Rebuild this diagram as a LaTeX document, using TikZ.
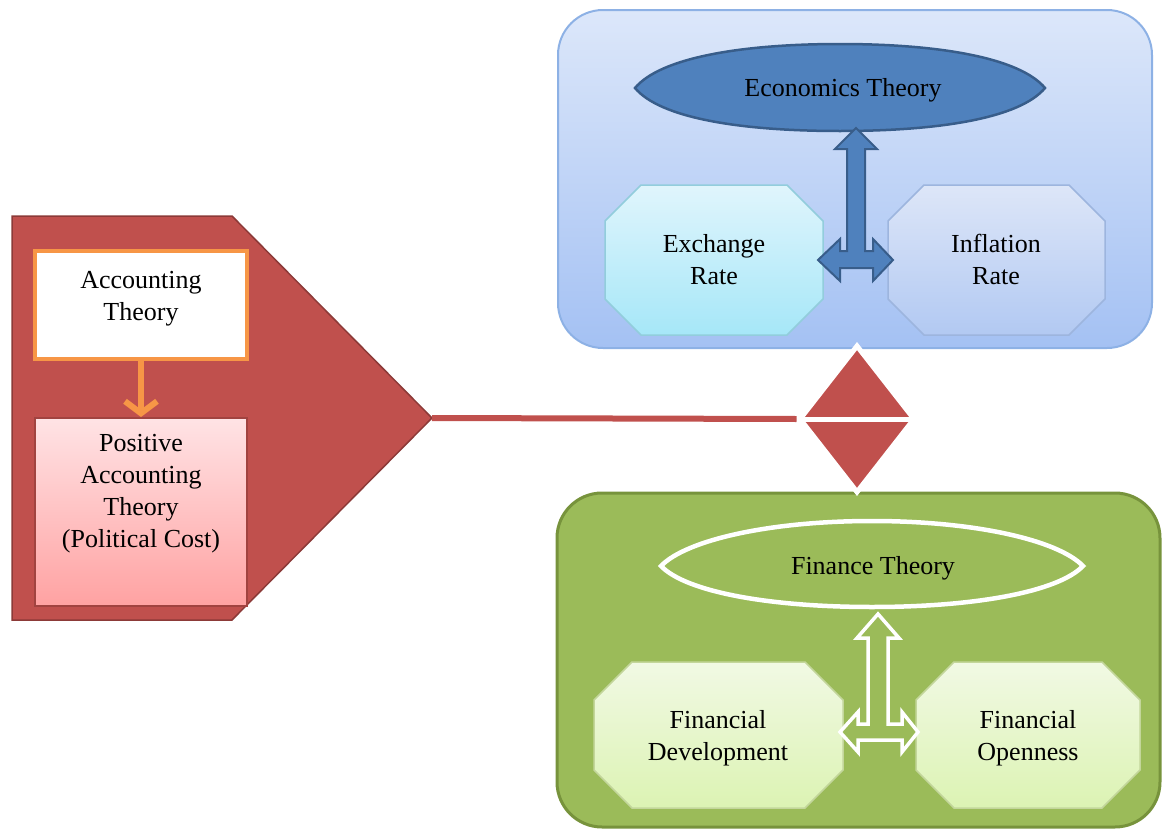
\documentclass[tikz,border=0pt]{standalone}
\usepackage{fontspec}
\setmainfont{Liberation Serif}
\usetikzlibrary{shapes.geometric,arrows.meta}
\definecolor{redF}{HTML}{C0504D}
\definecolor{redD}{HTML}{8C3A38}
\definecolor{orangeA}{HTML}{F79646}
\definecolor{pinkT}{HTML}{FFE3E5}
\definecolor{pinkB}{HTML}{FFA2A2}
\definecolor{pinkD}{HTML}{E9BDBD}
\definecolor{blueT}{HTML}{DCE7FA}
\definecolor{blueB}{HTML}{A4C1F3}
\definecolor{blueBd}{HTML}{8DB1E5}
\definecolor{econF}{HTML}{4F81BD}
\definecolor{econD}{HTML}{385D8A}
\definecolor{exchT}{HTML}{E0F5FC}
\definecolor{exchB}{HTML}{A6E7F8}
\definecolor{exchD}{HTML}{92CDDC}
\definecolor{inflT}{HTML}{DDE6F8}
\definecolor{inflB}{HTML}{B2C9F2}
\definecolor{inflD}{HTML}{9DB5DE}
\definecolor{greenF}{HTML}{9BBB59}
\definecolor{greenD}{HTML}{77933C}
\definecolor{finT}{HTML}{F1F9E4}
\definecolor{finB}{HTML}{DCF3B3}
\definecolor{finD}{HTML}{C3D69B}
\begin{document}
\begin{tikzpicture}[x=1pt,y=-1pt,
  txt/.style={font=\fontsize{26}{32}\selectfont, align=center, inner sep=0pt},
  exchshape/.style={draw=exchD, line width=1.5pt, top color=exchT, bottom color=exchB},
  inflshape/.style={draw=inflD, line width=1.5pt, top color=inflT, bottom color=inflB},
  finshape/.style={draw=finD, line width=1.5pt, top color=finT, bottom color=finB},
  bluearrow/.style={fill=econF, draw=econD, line width=2pt, line join=miter},
  whitearrow/.style={fill=greenF, draw=white, line width=3.5pt, line join=miter}]
\useasboundingbox (0,0) rectangle (1163,830);

% red pentagon
\draw[fill=redF, draw=redD, line width=1.5pt] (12,216) -- (232,216) -- (432,418) coordinate (ptip) -- (232,620) -- (12,620) -- cycle;

% accounting boxes
\node[draw=orangeA, line width=4pt, fill=white, minimum width=212pt, minimum height=108pt, inner sep=0pt] (accbox) at (141,305) {};
\node[txt] (acc) at (141,299) {Accounting\\Theory};
\node[draw=redD!60!redF, line width=2pt, top color=pinkT, bottom color=pinkB, minimum width=212pt, minimum height=188pt, inner sep=0pt] (posbox) at (141,512) {};
\node[txt] (pos) at (141,494) {Positive\\Accounting\\Theory\\(Political Cost)};
\draw[orangeA, line width=6pt, -{Straight Barb[length=12pt,width=32pt]}] (accbox.south) -- (posbox.north);

% blue group
\draw[rounded corners=45pt, draw=blueBd, line width=2pt, top color=blueT, bottom color=blueB] (558,10) rectangle (1152,348);
\draw[fill=econF, draw=econD, line width=2.5pt] (635,88) .. controls (660,58) and (740,44) .. (840,44) .. controls (940,44) and (1020,58) .. (1045,88) .. controls (1020,118) and (940,131) .. (840,131) .. controls (740,131) and (660,118) .. (635,88) -- cycle;
\node[txt] (econ) at (843,90) {Economics Theory};
\draw[exchshape] (641,185) -- (787,185) -- (823,221) -- (823,299) -- (787,335) -- (641,335) -- (605,299) -- (605,221) -- cycle;
\node[txt] (exch) at (714,260) {Exchange\\Rate};
\draw[inflshape] (924,185) -- (1069,185) -- (1105,221) -- (1105,299) -- (1069,335) -- (924,335) -- (888,299) -- (888,221) -- cycle;
\node[txt] (infl) at (996,259) {Inflation\\Rate};
\draw[bluearrow] (856,128) -- (877,149) -- (865,149) -- (865,251) -- (873,251) -- (873,239) -- (893,260) -- (873,281) -- (873,268) -- (840,268) -- (840,281) -- (818,260) -- (840,239) -- (840,251) -- (847,251) -- (847,149) -- (835,149) -- cycle;

% green group
\draw[rounded corners=45pt, draw=greenD, line width=3pt, fill=greenF] (557,493) rectangle (1160,827);
\draw[fill=greenF, draw=white, line width=4.5pt] (661,566) .. controls (686,540) and (770,521) .. (872,521) .. controls (974,521) and (1058,540) .. (1083,566) .. controls (1058,592) and (974,607) .. (872,607) .. controls (770,607) and (686,592) .. (661,566) -- cycle;
\node[txt] (fin) at (873,568) {Finance Theory};
\draw[finshape] (632,662) -- (805,662) -- (843,700) -- (843,770) -- (805,808) -- (632,808) -- (594,770) -- (594,700) -- cycle;
\node[txt] (fdev) at (718,738) {Financial\\Development};
\draw[finshape] (954,662) -- (1102,662) -- (1140,700) -- (1140,770) -- (1102,808) -- (954,808) -- (916,770) -- (916,700) -- cycle;
\node[txt] (fopen) at (1028,738) {Financial\\Openness};
\draw[whitearrow] (878,614) -- (899,638) -- (888,638) -- (888,724) -- (902,724) -- (902,712) -- (918,732) -- (902,752) -- (902,740) -- (858,740) -- (858,752) -- (840,732) -- (858,712) -- (858,724) -- (868,724) -- (868,638) -- (857,638) -- cycle;

% diamond junction
\node[diamond, draw=white, line width=5pt, fill=redF, minimum width=116pt, minimum height=148pt, inner sep=0pt] (dia) at (857,419) {};
\draw[redF, line width=6pt] (ptip) -- (dia.west);
\draw[white, line width=5pt] (dia.west) -- (dia.east);
\end{tikzpicture}
\end{document}
